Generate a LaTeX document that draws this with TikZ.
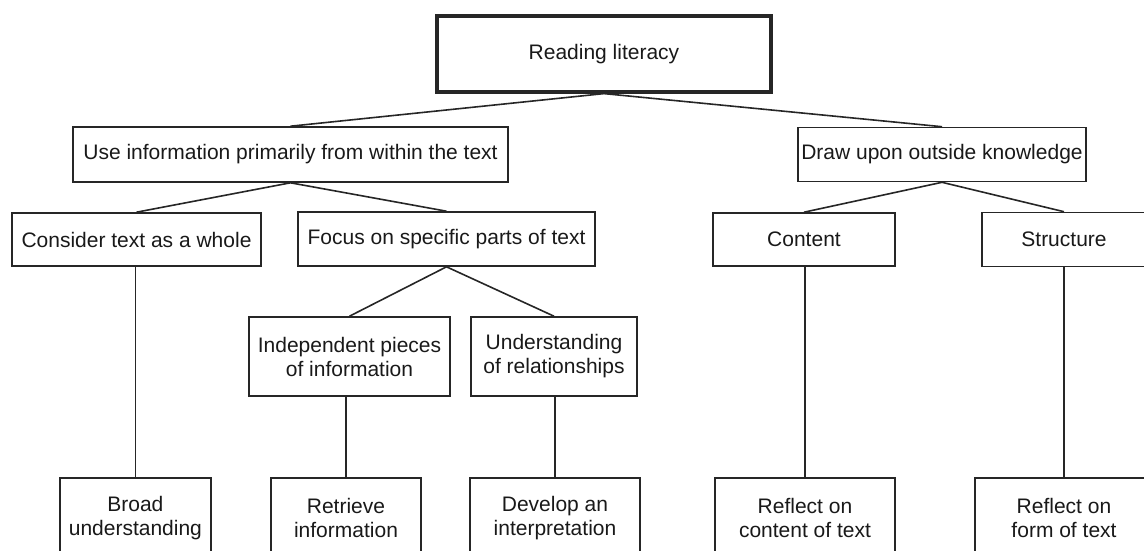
\documentclass[tikz,border=0pt]{standalone}
\usepackage{fontspec}
\setmainfont{Liberation Sans}
\begin{document}
\begin{tikzpicture}[x=1pt,y=-1pt,
  box/.style={draw=black!85, line width=1.6pt, inner sep=0pt, align=center,
    font=\fontsize{21}{24}\selectfont, text=black!90},
  topbox/.style={box, line width=3.2pt},
  conn/.style={draw=black!85, line width=1.6pt}]
\useasboundingbox (0,0) rectangle (1144,550);
\clip (0,0) rectangle (1144,550);
\node[topbox, minimum width=334, minimum height=76] (top) at (604,54) {Reading literacy};
\node[box, minimum width=435, minimum height=55] (use) at (290.5,154.5) {Use information primarily from within the text};
\node[box, minimum width=288, minimum height=54] (draw) at (942,154.5) {Draw upon outside knowledge};
\node[box, minimum width=249, minimum height=53] (consider) at (136.5,239.5) {Consider text as a whole};
\node[box, minimum width=297, minimum height=54] (focus) at (446.5,239) {Focus on specific parts of text};
\node[box, minimum width=182, minimum height=53] (content) at (804,239.5) {Content};
\node[box, minimum width=164, minimum height=54] (structure) at (1064,239.5) {Structure};
\node[box, minimum width=201, minimum height=79] (indep) at (349.5,356.5) {Independent pieces\\of information};
\node[box, minimum width=166, minimum height=79] (underst) at (554,356.5) {Understanding\\of relationships};
\node[box, minimum width=151, minimum height=80] (broad) at (135.4,518) {Broad\\understanding};
\node[box, minimum width=150, minimum height=80] (retrieve) at (346,518) {Retrieve\\information};
\node[box, minimum width=170, minimum height=80] (develop) at (555,518) {Develop an\\interpretation};
\node[box, minimum width=180, minimum height=80] (reflc) at (805,518) {Reflect on\\content of text};
\node[box, minimum width=178, minimum height=80] (reflf) at (1064,518) {Reflect on\\form of text};
\draw[conn] (top.south) -- (use.north);
\draw[conn] (top.south) -- (draw.north);
\draw[conn] (use.south) -- (consider.north);
\draw[conn] (use.south) -- (focus.north);
\draw[conn] (draw.south) -- (content.north);
\draw[conn] (draw.south) -- (structure.north);
\draw[conn] (focus.south) -- (indep.north);
\draw[conn] (focus.south) -- (underst.north);
\draw[conn] (broad.north) -- (broad.north |- consider.south);
\draw[conn] (retrieve.north) -- (retrieve.north |- indep.south);
\draw[conn] (develop.north) -- (develop.north |- underst.south);
\draw[conn] (reflc.north) -- (reflc.north |- content.south);
\draw[conn] (reflf.north) -- (reflf.north |- structure.south);
\end{tikzpicture}
\end{document}
